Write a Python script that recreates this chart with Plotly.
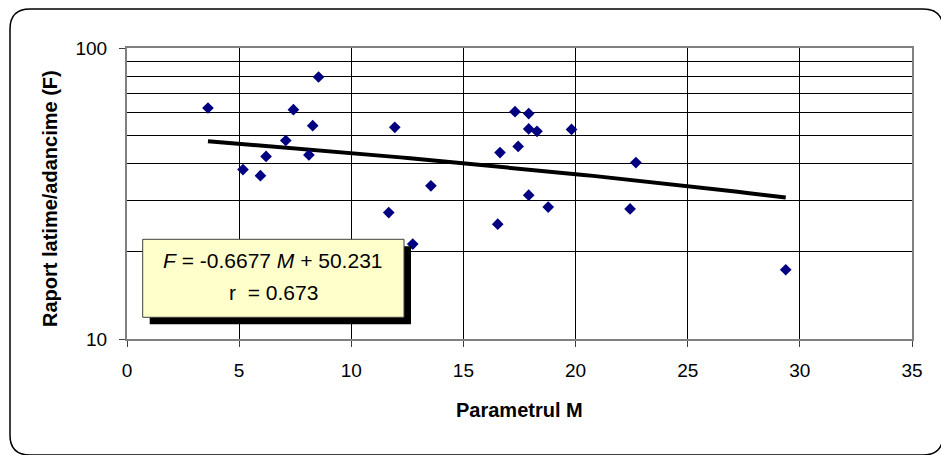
import plotly.graph_objects as go

# Data
M_values = [3.61, 5.17, 5.95, 6.20, 7.08, 7.42, 8.11, 8.28, 8.54, 11.67, 11.94,
            12.74, 13.55, 16.53, 16.63, 17.30, 17.44, 17.91, 17.91, 17.91, 18.28,
            18.78, 19.82, 22.43, 22.69, 29.37]
F_values = [62.2, 38.2, 36.4, 42.4, 48.1, 61.4, 42.9, 54.1, 79.5, 27.2, 53.4,
            21.2, 33.6, 24.8, 43.7, 60.4, 45.9, 59.5, 52.7, 31.2, 51.7,
            28.4, 52.5, 28.0, 40.4, 17.3]

slope = -0.6677
intercept = 50.231
r_value = 0.673

x_ticks = [0, 5, 10, 15, 20, 25, 30, 35]
y_ticks = [10, 100]
y_minor = [20, 30, 40, 50, 60, 70, 80, 90]

x_title = "Parametrul M"
y_title = "Raport latime/adancime (F)"

# Trend line computed from the displayed regression equation
m_min, m_max = min(M_values), max(M_values)
n_steps = 60
trend_x = [m_min + (m_max - m_min) * i / n_steps for i in range(n_steps + 1)]
trend_y = [slope * m + intercept for m in trend_x]

FONT = "Liberation Sans, Arial, sans-serif"

fig = go.Figure()
fig.add_trace(go.Scatter(
    x=trend_x, y=trend_y, mode="lines",
    line=dict(color="black", width=4), hoverinfo="skip", showlegend=False))
fig.add_trace(go.Scatter(
    x=M_values, y=F_values, mode="markers",
    marker=dict(symbol="diamond", size=9, color="#000080", line=dict(width=0)),
    showlegend=False))

W, H = 941, 455
L, R, T, B = 127, 29, 48, 116
pw, ph = W - L - R, H - T - B


def px(x):
    return (x - L) / pw


def py(y):
    return (H - B - y) / ph


# Rounded chart border
x0, x1 = px(10), px(943)
yt, yb = py(9), py(455)
rx, ry = 20 / pw, 20 / ph
path = (f"M {x0+rx},{yt} L {x1-rx},{yt} Q {x1},{yt} {x1},{yt-ry} "
        f"L {x1},{yb+ry} Q {x1},{yb} {x1-rx},{yb} L {x0+rx},{yb} "
        f"Q {x0},{yb} {x0},{yb+ry} L {x0},{yt-ry} Q {x0},{yt} {x0+rx},{yt} Z")

shapes = [
    dict(type="path", xref="paper", yref="paper", path=path,
         line=dict(color="black", width=1.5), layer="below"),
    # equation box shadow
    dict(type="rect", xref="paper", yref="paper",
         x0=px(149.7), x1=px(411), y0=py(324.3), y1=py(246.3),
         fillcolor="black", line=dict(width=0), layer="above"),
    # equation box
    dict(type="rect", xref="paper", yref="paper",
         x0=px(142.7), x1=px(404), y0=py(317.3), y1=py(239.3),
         fillcolor="#FFFFCC", line=dict(color="#404040", width=1), layer="above"),
]

annotations = [
    dict(text=f"<i>F</i> = {slope} <i>M</i> + {intercept}", xref="paper", yref="paper",
         x=px(273), y=py(260), showarrow=False, xanchor="center", yanchor="middle",
         font=dict(family=FONT, size=21, color="black")),
    dict(text=f"r\u00a0 = {r_value}", xref="paper", yref="paper",
         x=px(273), y=py(292), showarrow=False, xanchor="center", yanchor="middle",
         font=dict(family=FONT, size=21, color="black")),
    dict(text=f"<b>{x_title}</b>", xref="paper", yref="paper",
         x=px(519), y=py(410), showarrow=False, xanchor="center", yanchor="middle",
         font=dict(family=FONT, size=20, color="black")),
    dict(text=f"<b>{y_title}</b>", xref="paper", yref="paper",
         x=px(50), y=py(199), showarrow=False, xanchor="center", yanchor="middle",
         textangle=-90, font=dict(family=FONT, size=20, color="black")),
]

fig.update_layout(
    width=W, height=H,
    margin=dict(l=L, r=R, t=T, b=B, pad=0),
    paper_bgcolor="white", plot_bgcolor="white",
    font=dict(family=FONT, size=19, color="black"),
    shapes=shapes, annotations=annotations,
    xaxis=dict(range=[0, 35], tickvals=x_ticks, ticktext=[str(v) for v in x_ticks],
               showgrid=True, gridcolor="black", gridwidth=1,
               showline=True, linecolor="#808080", linewidth=2, mirror=True,
               ticks="outside", ticklen=6, tickcolor="#404040", tickwidth=1,
               ticklabelstandoff=7, zeroline=False,
               tickfont=dict(family=FONT, size=19, color="black")),
    yaxis=dict(type="log", range=[1, 2], tickvals=y_ticks, ticktext=[str(v) for v in y_ticks],
               showgrid=True, gridcolor="black", gridwidth=1,
               minor=dict(tickvals=y_minor, showgrid=True, gridcolor="black", gridwidth=1, ticks=""),
               showline=True, linecolor="#808080", linewidth=2, mirror=True,
               ticks="outside", ticklen=6, tickcolor="#404040", tickwidth=1,
               ticklabelstandoff=8, zeroline=False,
               tickfont=dict(family=FONT, size=19, color="black")),
)

fig.write_html("out.html")
